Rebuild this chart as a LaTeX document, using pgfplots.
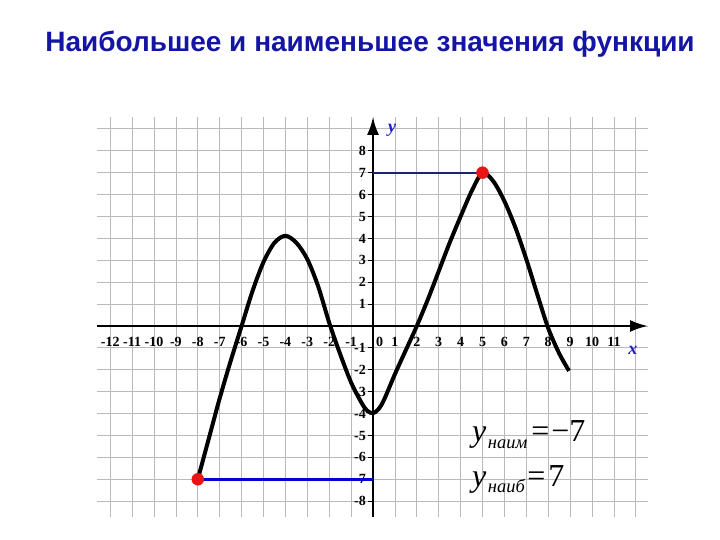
\documentclass[border=0pt]{standalone}
\usepackage{fontspec}
\setmainfont{Liberation Serif}
\newfontfamily\titlefont{Liberation Sans}
\usepackage{pgfplots}
\pgfplotsset{compat=1.18}
\usetikzlibrary{arrows.meta}
\definecolor{titleblue}{RGB}{20,20,165}
\definecolor{lineblue}{RGB}{0,0,205}
\definecolor{navyline}{RGB}{25,35,120}
\definecolor{labelblue}{RGB}{30,30,200}
\definecolor{dotred}{RGB}{235,20,20}
\definecolor{gridgray}{RGB}{185,185,185}

\begin{document}
\begin{tikzpicture}
\path[use as bounding box] (0,0) rectangle (720pt,540pt);
% title
\node[anchor=base, inner sep=0, text=titleblue,
      font=\titlefont\bfseries\fontsize{28}{30}\selectfont] at (370pt,488pt)
      {Наибольшее и наименьшее значения функции};

\begin{axis}[
    at={(373pt,214pt)}, anchor=origin,
    x=21.9pt, y=21.9pt,
    xmin=-12.6, xmax=12.56, ymin=-8.7, ymax=9.55,
    axis lines=middle,
    axis line style={line width=2.6pt, -{Latex[length=18pt,width=12pt]}},
    clip=false,
    xtick={-12,-11,-10,-9,-8,-7,-6,-5,-4,-3,-2,-1,1,2,3,4,5,6,7,8,9,10,11},
    xticklabels={-12,-11,-10,-9,-8,-7,-6,-5,-4,-3,-2,-1,1,2,3,4,5,6,7,8,9,10,11},
    ytick={-8,-7,-6,-5,-4,-3,-2,-1,1,2,3,4,5,6,7,8},
    yticklabels={-8,-7,-6,-5,-4,-3,-2,-1,1,2,3,4,5,6,7,8},
    extra x ticks={0.3}, extra x tick labels={0},
    extra x tick style={grid=none},
    minor xtick={-12,...,12}, minor ytick={-8,...,9},
    grid=minor,
    minor grid style={gridgray, line width=0.8pt},
    minor tick length=0pt,
    tick align=outside, major tick length=5pt,
    xtick style={draw=none},
    ytick style={black, line width=0.8pt},
    tick label style={font=\bfseries\fontsize{14}{14}\selectfont},
    xticklabel style={anchor=north, yshift=-4pt, inner sep=2pt},
    yticklabel style={anchor=east, inner sep=2pt},
]
% function graph
\addplot[black, line width=4pt, smooth, tension=0.5] coordinates {
    (-8,-7) (-7.5,-5.15) (-7,-3.3) (-6.5,-1.6) (-6,0) (-5.5,1.6)
    (-5,2.92) (-4.5,3.8) (-4,4.12) (-3.5,3.8) (-3,3.05) (-2.5,1.8)
    (-2,0.15) (-1.5,-1.28) (-1,-2.58) (-0.5,-3.55) (-0.25,-3.88) (0,-3.98)
    (0.25,-3.8) (0.5,-3.38) (1,-2.2) (1.5,-1.1) (2,0) (2.5,1.2) (3,2.5)
    (3.5,3.8) (4,5.0) (4.5,6.15) (5,7) (5.5,6.6) (6,5.7) (6.5,4.5)
    (7,3.05) (7.5,1.45) (8,-0.1) (8.5,-1.25) (8.95,-2.05)
};
% min and max levels
\addplot[lineblue, line width=3pt] coordinates {(-8,-7) (0,-7)};
\addplot[navyline, line width=2pt] coordinates {(0,7) (5,7)};
\addplot[only marks, mark=*, mark size=6pt, color=dotred] coordinates {(-8,-7) (5,7)};
% axis names
\node[text=labelblue, font=\bfseries\itshape\fontsize{18}{18}\selectfont] at (axis cs:11.87,-1.1) {x};
\node[text=labelblue, font=\bfseries\itshape\fontsize{18}{18}\selectfont] at (axis cs:0.87,8.95) {y};
\end{axis}

% answer
\node[anchor=base west, inner sep=0, font=\fontsize{32}{32}\selectfont] at (472pt,98pt)
    {\textit{y}\kern1.5pt\raisebox{-7pt}{\fontsize{18.5}{18}\selectfont\textit{наим}}\hspace{4pt}=\hspace{2pt}−7};
\node[anchor=base west, inner sep=0, font=\fontsize{32}{32}\selectfont] at (472pt,53pt)
    {\textit{y}\kern1.5pt\raisebox{-6pt}{\fontsize{18.5}{18}\selectfont\textit{наиб}}\hspace{2pt}=\hspace{3pt}7};
\end{tikzpicture}
\end{document}
